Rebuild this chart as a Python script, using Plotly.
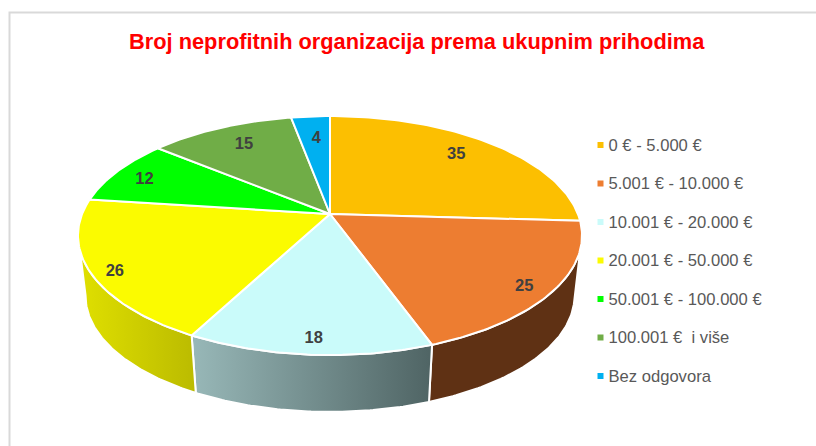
import numpy as np
import plotly.graph_objects as go

title = "Broj neprofitnih organizacija prema ukupnim prihodima"
categories = ["0 € - 5.000 €", "5.001 € - 10.000 €", "10.001 € - 20.000 €", "20.001 € - 50.000 €",
              "50.001 € - 100.000 €", "100.001 €  i više", "Bez odgovora"]
values = [35, 25, 18, 26, 12, 15, 4]
colors = ["#FCBF01", "#ED7D31", "#CAFBFA", "#FBFB00", "#00FF00", "#70AD47", "#00B0F0"]
label_radius = [0.78, 0.88, 0.89, 0.90, 0.86, 0.78, 0.78]
label_dx = [-2, 1, 2, -1, -1, 2, 2]
label_dy = [-3, 6, 3, 6, 3, 0, 4]
wall_gradients = {1: ["#5F3114", "#5F3114"], 2: ["#98B8B8", "#4F6464"], 3: ["#E0E000", "#BBBB00"]}

# perspective view of the tilted disc, in page pixels
CX, APEX_Y, C, B, D = 330.0, 214.0, 0.18, -77.1, 247.9
WALL_START, WALL_END = 100.0, 260.0  # silhouette of the visible side wall


def project(u, v):
    den = 1 + C * v
    return CX + D * u / den, (APEX_Y + B * v) / den


def rim(a0, a1, n=80):
    t = np.radians(np.linspace(a0, a1, n))
    return project(np.sin(t), np.cos(t))


def lower(x, y):
    return CX + 0.97 * (x - CX), 296 + 0.97 * (y - 235.5)


total = sum(values)
edges = np.concatenate([[0], np.cumsum(values)]) / total * 360

fig = go.Figure()

# side walls, front slices only
for i, grad in wall_gradients.items():
    a0, a1 = max(edges[i], WALL_START), min(edges[i + 1], WALL_END)
    x, y = rim(a0, a1)
    xb, yb = lower(x, y)
    px = np.concatenate([x, xb[::-1], x[:1]])
    py = np.concatenate([y, yb[::-1], y[:1]])
    fig.add_trace(go.Scatter(
        x=px, y=py, mode="lines", fill="toself", hoverinfo="skip", showlegend=False,
        line=dict(color="white", width=2), fillcolor=grad[0],
        fillgradient=dict(type="horizontal", colorscale=[[0, grad[0]], [1, grad[1]]]),
    ))

# top faces
for i, name in enumerate(categories):
    x, y = rim(edges[i], edges[i + 1])
    px = np.concatenate([[CX], x, [CX]])
    py = np.concatenate([[APEX_Y], y, [APEX_Y]])
    fig.add_trace(go.Scatter(
        x=px, y=py, mode="lines", fill="toself", name=name, showlegend=False,
        line=dict(color="white", width=2), fillcolor=colors[i], hoverinfo="name",
    ))

# value labels
mid = np.radians((edges[:-1] + edges[1:]) / 2)
lx, ly = project(np.array(label_radius) * np.sin(mid), np.array(label_radius) * np.cos(mid))
fig.add_trace(go.Scatter(
    x=lx + np.array(label_dx), y=ly + np.array(label_dy), mode="text", text=[str(v) for v in values],
    showlegend=False, hoverinfo="skip", textposition="middle center",
    textfont=dict(family="Liberation Sans", size=16.5, color="#404040", weight="bold"),
))

# legend column
leg_y = [145 + 38.5 * i for i in range(len(categories))]
fig.add_trace(go.Scatter(
    x=[600.5] * len(categories), y=leg_y, mode="markers", showlegend=False, hoverinfo="skip",
    marker=dict(symbol="square", size=6, color=colors),
))
fig.add_trace(go.Scatter(
    x=[608.5] * len(categories), y=[v + 1.5 for v in leg_y], mode="text", text=categories,
    textposition="middle right", showlegend=False, hoverinfo="skip",
    textfont=dict(family="Liberation Sans", size=16.6, color="#595959"),
))

fig.update_layout(
    width=816, height=446, margin=dict(l=0, r=0, t=0, b=0), autosize=False,
    paper_bgcolor="white", plot_bgcolor="white", showlegend=False,
    xaxis=dict(range=[0, 816], visible=False, fixedrange=True),
    yaxis=dict(range=[446, 0], visible=False, fixedrange=True),
    shapes=[dict(type="rect", xref="x", yref="y", x0=9.5, y0=12.5, x1=830, y1=460,
                 line=dict(color="#D9D9D9", width=2), layer="below")],
    annotations=[dict(x=417, y=41, xref="x", yref="y", text=title, showarrow=False,
                      font=dict(family="Liberation Sans", size=21.8, color="#FF0000", weight="bold"))],
)
fig.write_html("out.html", config={"displayModeBar": False},
               post_script="document.body.style.margin='0';document.documentElement.style.overflow='hidden';")
